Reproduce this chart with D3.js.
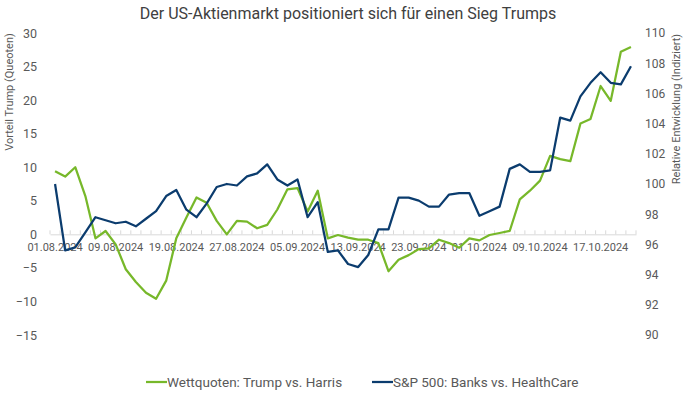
<!DOCTYPE html>
<html>
<head>
<meta charset="utf-8">
<script src="https://cdn.jsdelivr.net/npm/d3@7"></script>
<style>
  body { margin: 0; background: #fff; }
  svg text { font-family: Roboto, "Liberation Sans", sans-serif; fill: #595959; }
</style>
</head>
<body>
<div id="chart"></div>
<script>
var svgWidth = 700;
var svgHeight = 394;

var margin = { top: 33, right: 64, bottom: 59, left: 50 };
var chartWidth = svgWidth - margin.left - margin.right;
var chartHeight = svgHeight - margin.top - margin.bottom;

// trading days (category axis)
var dates = [
  "01.08.2024","02.08.2024","05.08.2024","06.08.2024","07.08.2024","08.08.2024","09.08.2024",
  "12.08.2024","13.08.2024","14.08.2024","15.08.2024","16.08.2024","19.08.2024","20.08.2024",
  "21.08.2024","22.08.2024","23.08.2024","26.08.2024","27.08.2024","28.08.2024","29.08.2024",
  "30.08.2024","03.09.2024","04.09.2024","05.09.2024","06.09.2024","09.09.2024","10.09.2024",
  "11.09.2024","12.09.2024","13.09.2024","16.09.2024","17.09.2024","18.09.2024","19.09.2024",
  "20.09.2024","23.09.2024","24.09.2024","25.09.2024","26.09.2024","27.09.2024","30.09.2024",
  "01.10.2024","02.10.2024","03.10.2024","04.10.2024","07.10.2024","08.10.2024","09.10.2024",
  "10.10.2024","11.10.2024","14.10.2024","15.10.2024","16.10.2024","17.10.2024","18.10.2024",
  "21.10.2024","22.10.2024"
];

// Wettquoten: Trump vs. Harris (left axis)
var odds = [
  9.4, 8.6, 10.0, 5.7, -0.6, 0.5, -1.5, -5.2, -7.1, -8.7,
  -9.6, -6.9, -0.6, 2.5, 5.5, 4.7, 2.0, 0.0, 2.0, 1.9,
  0.9, 1.4, 3.7, 6.7, 6.9, 3.4, 6.5, -0.6, -0.1, -0.5,
  -0.8, -0.8, -1.3, -5.5, -3.8, -3.1, -2.2, -2.1, -0.8, -1.3,
  -2.0, -0.6, -0.9, -0.1, 0.2, 0.5, 5.2, 6.5, 8.0, 11.7,
  11.2, 10.9, 16.5, 17.2, 22.1, 19.9, 27.2, 27.9
];

// S&P 500: Banks vs. HealthCare (right axis)
var banks = [
  100.0, 95.6, 95.8, 96.8, 97.8, 97.6, 97.4, 97.5, 97.2, 97.7,
  98.2, 99.2, 99.6, 98.3, 97.8, 98.7, 99.8, 100.0, 99.9, 100.5,
  100.7, 101.3, 100.3, 99.9, 100.3, 97.8, 98.8, 95.5, 95.6, 94.7,
  94.5, 95.3, 97.0, 97.0, 99.1, 99.1, 98.9, 98.5, 98.5, 99.3,
  99.4, 99.4, 97.9, 98.2, 98.5, 101.0, 101.3, 100.8, 100.8, 100.9,
  104.4, 104.2, 105.8, 106.7, 107.4, 106.7, 106.6, 107.8
];

var leftTicks = [30, 25, 20, 15, 10, 5, 0, -5, -10, -15];
var rightTicks = [110, 108, 106, 104, 102, 100, 98, 96, 94, 92, 90];
var seriesNames = ["Wettquoten: Trump vs. Harris", "S&P 500: Banks vs. HealthCare"];
var colors = ["#77b82a", "#0b3c6e"];

var svg = d3.select("#chart").append("svg")
  .attr("width", svgWidth)
  .attr("height", svgHeight);

svg.append("text")
  .attr("x", 348)
  .attr("y", 19)
  .attr("text-anchor", "middle")
  .style("font-size", "16px")
  .style("fill", "#404040")
  .text("Der US-Aktienmarkt positioniert sich für einen Sieg Trumps");

var chartGroup = svg.append("g")
  .attr("transform", `translate(${margin.left}, ${margin.top})`);

var xScale = d3.scaleBand().domain(dates).range([0, chartWidth]).padding(0);
var yLeft = d3.scaleLinear().domain([-15, 30]).range([chartHeight, 0]);
var yRight = d3.scaleLinear().domain([90, 110]).range([chartHeight, 0]);

// left axis
var leftAxis = chartGroup.append("g")
  .call(d3.axisLeft(yLeft).tickValues(leftTicks).tickSize(0).tickPadding(13));
leftAxis.select(".domain").remove();
leftAxis.selectAll("text").style("font-size", "12.5px").style("fill", "#595959");

// right axis
var rightAxis = chartGroup.append("g")
  .attr("transform", `translate(${chartWidth}, 0)`)
  .call(d3.axisRight(yRight).tickValues(rightTicks).tickSize(0).tickPadding(9));
rightAxis.select(".domain").remove();
rightAxis.selectAll("text").style("font-size", "12px").style("fill", "#595959");

// category axis at zero
var zeroY = yLeft(0);
var xAxis = chartGroup.append("g")
  .attr("transform", `translate(0, ${zeroY})`)
  .call(d3.axisBottom(xScale)
    .tickValues(dates.filter(function(d, i) { return i % 6 === 0; }))
    .tickSize(0).tickPadding(9));
xAxis.select(".domain").attr("stroke", "#d9d9d9");
xAxis.selectAll("text").style("font-size", "11px").style("fill", "#595959");

chartGroup.append("g").selectAll("line")
  .data(dates.concat(["end"]))
  .enter()
  .append("line")
  .attr("x1", function(d, i) { return i * xScale.step(); })
  .attr("x2", function(d, i) { return i * xScale.step(); })
  .attr("y1", zeroY - 4)
  .attr("y2", zeroY)
  .attr("stroke", "#d9d9d9");

var half = xScale.bandwidth() / 2;

var oddsLine = d3.line()
  .x(function(d, i) { return xScale(dates[i]) + half; })
  .y(function(d) { return yLeft(d); });

var banksLine = d3.line()
  .x(function(d, i) { return xScale(dates[i]) + half; })
  .y(function(d) { return yRight(d); });

chartGroup.append("path")
  .datum(odds)
  .attr("d", oddsLine)
  .attr("fill", "none")
  .attr("stroke", colors[0])
  .attr("stroke-width", 2.25)
  .attr("stroke-linejoin", "round");

chartGroup.append("path")
  .datum(banks)
  .attr("d", banksLine)
  .attr("fill", "none")
  .attr("stroke", colors[1])
  .attr("stroke-width", 2.25)
  .attr("stroke-linejoin", "round");

// axis titles
svg.append("text")
  .attr("transform", "translate(13, 92) rotate(-90)")
  .attr("text-anchor", "middle")
  .style("font-size", "11px")
  .text("Vorteil Trump (Queoten)");

svg.append("text")
  .attr("transform", "translate(680, 109) rotate(-90)")
  .attr("text-anchor", "middle")
  .style("font-size", "11px")
  .text("Relative Entwicklung (Indiziert)");

// legend
var legendX = [146, 372];
var legend = svg.append("g").selectAll("g")
  .data(seriesNames)
  .enter()
  .append("g")
  .attr("transform", function(d, i) { return `translate(${legendX[i]}, 382)`; });

legend.append("line")
  .attr("x1", 0).attr("x2", 21)
  .attr("y1", 0).attr("y2", 0)
  .attr("stroke", function(d, i) { return colors[i]; })
  .attr("stroke-width", 2.25);

legend.append("text")
  .attr("x", 21)
  .attr("y", 5)
  .style("font-size", "13.5px")
  .text(function(d) { return d; });
</script>
</body>
</html>
